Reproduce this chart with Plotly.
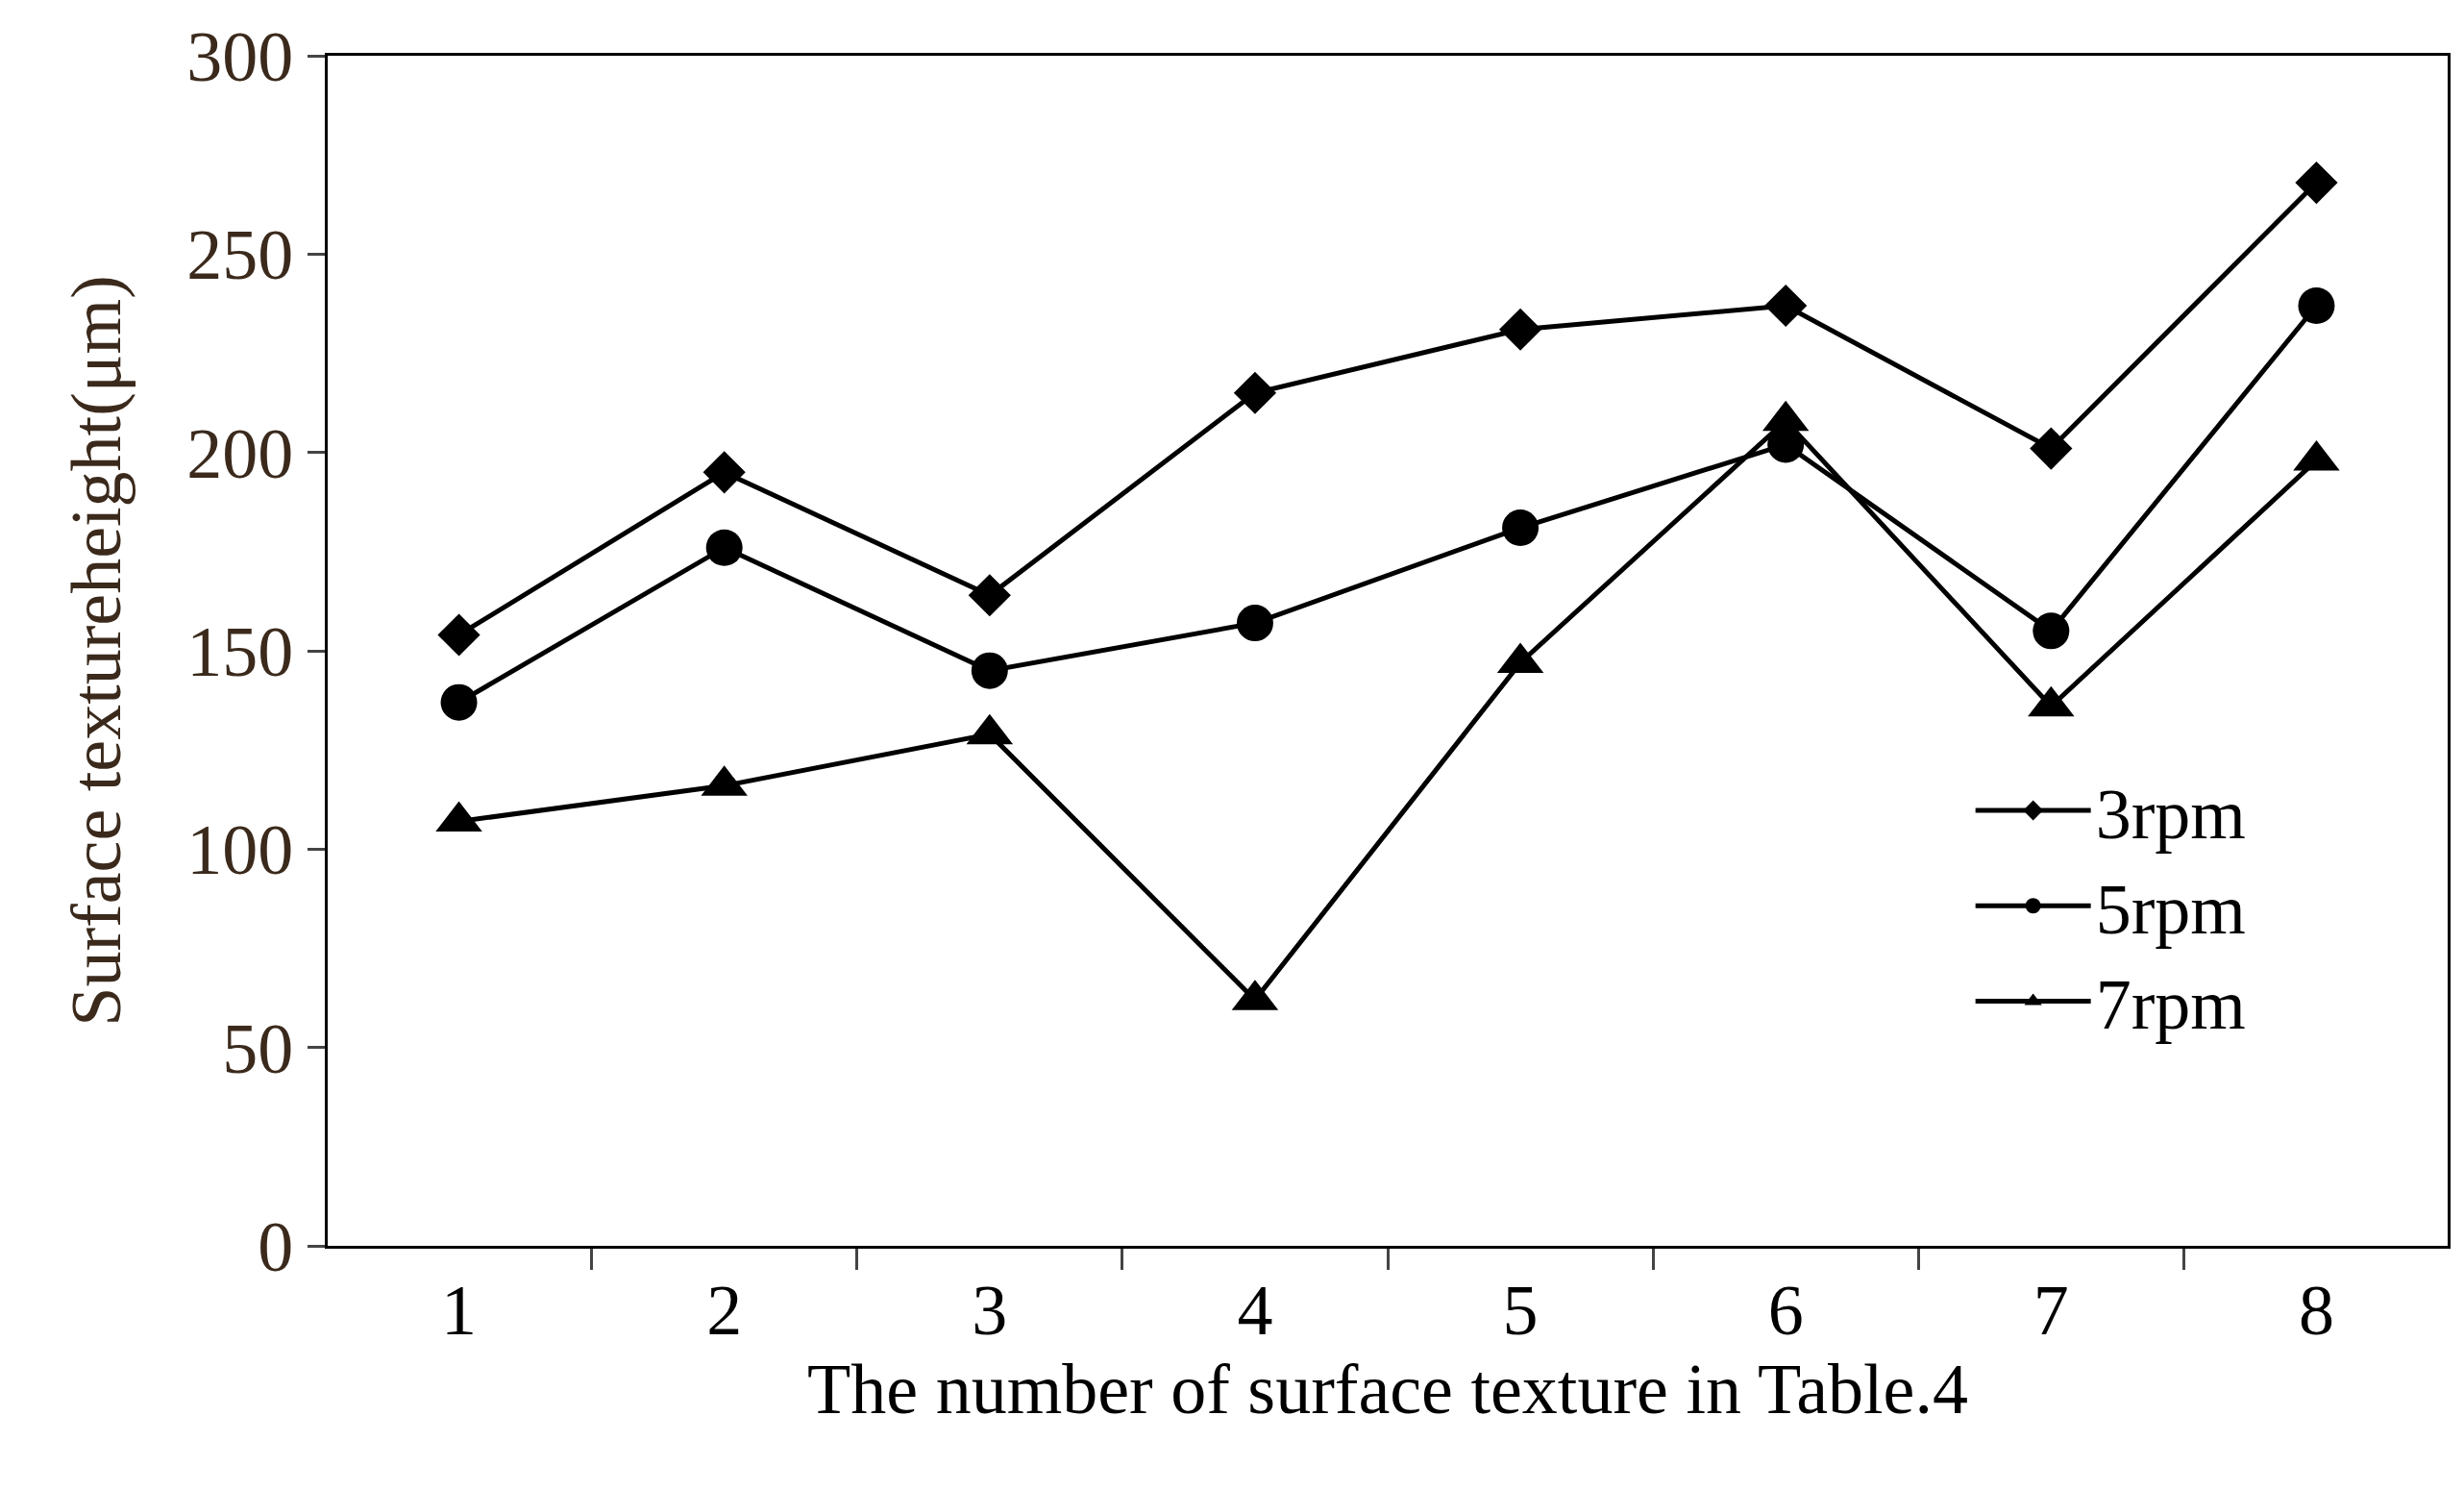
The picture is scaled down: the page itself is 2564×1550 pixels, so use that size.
import plotly.graph_objects as go

categories = ["1", "2", "3", "4", "5", "6", "7", "8"]
rpm3 = [154, 195, 164, 215, 231, 237, 201, 268]
rpm5 = [137, 176, 145, 157, 181, 202, 155, 237]
rpm7 = [107, 116, 129, 62, 147, 208, 136, 198]
series = [("3rpm", rpm3, "diamond", 34), ("5rpm", rpm5, "circle", 38), ("7rpm", rpm7, "triangle-up", 42)]

fig = go.Figure()
for name, vals, sym, sz in series:
    fig.add_trace(go.Scatter(x=categories, y=vals, name=name, mode="lines+markers",
                             line=dict(color="black", width=5),
                             marker=dict(symbol=sym, size=sz, color="black")))

fs = 74
tcol = "#3b2a1c"
fig.update_layout(
    width=2564, height=1550, plot_bgcolor="white", paper_bgcolor="white",
    margin=dict(l=333, r=25, t=50, b=262, autoexpand=False),
    font=dict(family="Liberation Serif", size=fs, color="black"),
    legend=dict(x=0.775, y=0.41, xanchor="left", yanchor="top", bgcolor="rgba(0,0,0,0)",
                font=dict(family="Liberation Serif", size=fs, color="black"), itemwidth=120,
                tracegroupgap=0),
    showlegend=True,
)
fig.update_xaxes(type="category", tickson="boundaries", ticks="outside", ticklen=22, tickwidth=3,
                 showline=True, linecolor="black", linewidth=3, mirror=True, showgrid=False,
                 tickfont=dict(family="Liberation Serif", size=fs, color="black"),
                 title=dict(text="The number of surface texture in Table.4", standoff=5,
                            font=dict(family="Liberation Serif", size=fs, color="black")))
fig.update_yaxes(range=[0, 300], dtick=50, ticks="outside", ticklen=18, tickwidth=3,
                 showline=True, linecolor="black", linewidth=3, mirror=True, showgrid=False, zeroline=False,
                 tickfont=dict(family="Liberation Serif", size=fs, color=tcol),
                 title=dict(text="Surface textureheight(μm)", standoff=45,
                            font=dict(family="Liberation Serif", size=fs, color=tcol)))
fig.write_html("out.html")
